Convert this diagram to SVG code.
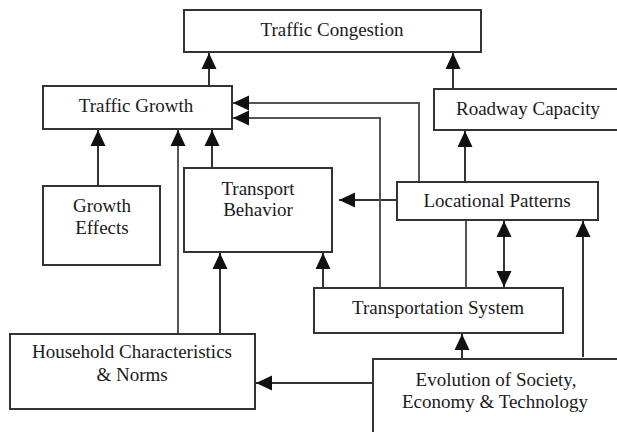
<svg xmlns="http://www.w3.org/2000/svg" width="617" height="432" viewBox="0 0 617 432">
<defs>
<marker id="ah" markerUnits="userSpaceOnUse" markerWidth="16" markerHeight="16" viewBox="0 0 16 16" refX="16" refY="8" orient="auto-start-reverse">
<path d="M0,0.5 L16,8 L0,15.5 Z" fill="#111"/>
</marker>
<style>
.box{fill:#fff;stroke:#333;stroke-width:2}
.t{font-family:"Liberation Serif",serif;font-size:19px;fill:#1a1a1a;text-anchor:middle}
.c{fill:none;stroke:#333;stroke-width:2}
.g{fill:none;stroke:#555;stroke-width:2}
.a{marker-end:url(#ah)}
.d{marker-start:url(#ah);marker-end:url(#ah)}
</style>
</defs>
<rect width="617" height="432" fill="#fff"/>
<g id="connectors">
<line class="c a" x1="209" y1="86" x2="209" y2="53"/>
<line class="c a" x1="453" y1="89" x2="453" y2="53"/>
<line class="c a" x1="465" y1="182" x2="465" y2="131"/>
<line class="c a" x1="397" y1="200" x2="339" y2="200"/>
<polyline class="g a" points="419,182 419,103 233,103"/>
<polyline class="g a" points="380,288 380,118 233,118"/>
<line class="c a" x1="98" y1="186" x2="98" y2="130"/>
<line class="g a" x1="178" y1="334" x2="178" y2="130"/>
<line class="c a" x1="212" y1="168" x2="212" y2="130"/>
<line class="c a" x1="220" y1="334" x2="220" y2="253"/>
<line class="c a" x1="373" y1="383" x2="256" y2="383"/>
<line class="c a" x1="323" y1="288" x2="323" y2="253"/>
<line class="g" x1="466" y1="288" x2="466" y2="220"/>
<line class="c d" x1="504" y1="221" x2="504" y2="287"/>
<line class="c a" x1="462" y1="359" x2="462" y2="334"/>
<line class="c a" x1="583" y1="357" x2="583" y2="221"/>
</g>
<g id="traffic-congestion">
<rect class="box" x="184" y="10" width="297" height="42"/>
<text class="t" x="332" y="36">Traffic Congestion</text>
</g>
<g id="traffic-growth">
<rect class="box" x="43" y="86" width="189" height="43"/>
<text class="t" x="136" y="112">Traffic Growth</text>
</g>
<g id="roadway-capacity">
<rect class="box" x="434" y="89" width="190" height="41"/>
<text class="t" x="528" y="115">Roadway Capacity</text>
</g>
<g id="locational-patterns">
<rect class="box" x="397" y="182" width="201" height="38"/>
<text class="t" x="497" y="207">Locational Patterns</text>
</g>
<g id="transport-behavior">
<rect class="box" x="184" y="168" width="148" height="84"/>
<text class="t" x="258" y="195">Transport</text>
<text class="t" x="258" y="216">Behavior</text>
</g>
<g id="growth-effects">
<rect class="box" x="43" y="186" width="117" height="79"/>
<text class="t" x="102" y="212">Growth</text>
<text class="t" x="102" y="234">Effects</text>
</g>
<g id="household">
<rect class="box" x="10" y="334" width="245" height="75"/>
<text class="t" x="132" y="358">Household Characteristics</text>
<text class="t" x="132" y="381">&amp; Norms</text>
</g>
<g id="transportation-system">
<rect class="box" x="314" y="288" width="249" height="45"/>
<text class="t" x="438" y="314">Transportation System</text>
</g>
<g id="evolution">
<rect class="box" x="373" y="359" width="260" height="90"/>
<text class="t" x="496" y="386">Evolution of Society,</text>
<text class="t" x="495" y="408">Economy &amp; Technology</text>
</g>
</svg>
